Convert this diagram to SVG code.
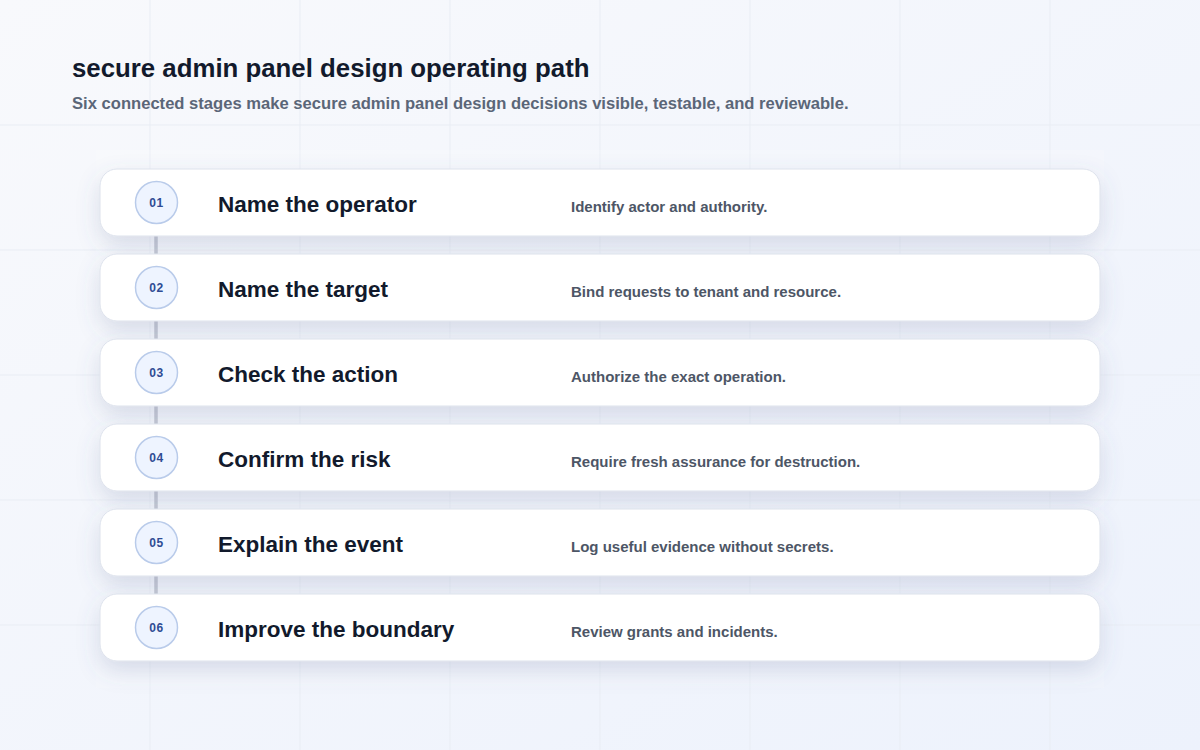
<svg xmlns="http://www.w3.org/2000/svg" width="1200" height="750" viewBox="0 0 1200 750">
<defs>
<linearGradient id="bg" x1="0" y1="0" x2="1" y2="1">
<stop offset="0" stop-color="#f8f9fc"/>
<stop offset="1" stop-color="#edf2fc"/>
</linearGradient>
<filter id="sh" x="-10%" y="-50%" width="120%" height="220%">
<feDropShadow dx="0" dy="9" stdDeviation="11" flood-color="#5a6a96" flood-opacity="0.2"/>
</filter>
<style>
.grid line{stroke:#e9edf4;stroke-width:1}
.card{fill:#ffffff;stroke:#dde2ec;stroke-width:1;filter:url(#sh)}
.badge{fill:#eef4ff;stroke:#b9cbea;stroke-width:1.5}
.num{font-family:"Liberation Sans",Arial,sans-serif;font-size:12px;font-weight:700;fill:#2f4c94;text-anchor:middle;letter-spacing:0.5px}
.ttl{font-family:"Liberation Sans",Arial,sans-serif;font-size:22.5px;font-weight:700;fill:#121a2c}
.desc{font-family:"Liberation Sans",Arial,sans-serif;font-size:15px;font-weight:700;fill:#4d5666}
.conn line{stroke:#c6cad4;stroke-width:3.5}
</style>
</defs>
<rect width="1200" height="750" fill="url(#bg)"/>
<g class="grid">
<line x1="150" y1="0" x2="150" y2="750"/>
<line x1="300" y1="0" x2="300" y2="750"/>
<line x1="450" y1="0" x2="450" y2="750"/>
<line x1="600" y1="0" x2="600" y2="750"/>
<line x1="750" y1="0" x2="750" y2="750"/>
<line x1="900" y1="0" x2="900" y2="750"/>
<line x1="1050" y1="0" x2="1050" y2="750"/>
<line x1="0" y1="125" x2="1200" y2="125"/>
<line x1="0" y1="250" x2="1200" y2="250"/>
<line x1="0" y1="375" x2="1200" y2="375"/>
<line x1="0" y1="500" x2="1200" y2="500"/>
<line x1="0" y1="625" x2="1200" y2="625"/>
</g>
<rect x="96" y="150" width="1008" height="538" fill="#ffffff" fill-opacity="0.15"/>
<text x="72" y="77" font-family="'Liberation Sans',Arial,sans-serif" font-size="25.8" font-weight="700" fill="#121a2c">secure admin panel design operating path</text>
<text x="72" y="109" font-family="'Liberation Sans',Arial,sans-serif" font-size="16.6" font-weight="700" fill="#5b6678">Six connected stages make secure admin panel design decisions visible, testable, and reviewable.</text>
<g class="conn" id="connectors">
<line x1="156" y1="236" x2="156" y2="254"/>
<line x1="156" y1="321" x2="156" y2="339"/>
<line x1="156" y1="406" x2="156" y2="424"/>
<line x1="156" y1="491" x2="156" y2="509"/>
<line x1="156" y1="576" x2="156" y2="594"/>
</g>
<g id="stage1">
<rect class="card" x="100" y="169" width="1000" height="67" rx="17"/>
<circle class="badge" cx="156.5" cy="202.5" r="21"/>
<text class="num" x="156.5" y="207">01</text>
<text class="ttl" x="218" y="212">Name the operator</text>
<text class="desc" x="571" y="212">Identify actor and authority.</text>
</g>
<g id="stage2">
<rect class="card" x="100" y="254" width="1000" height="67" rx="17"/>
<circle class="badge" cx="156.5" cy="287.5" r="21"/>
<text class="num" x="156.5" y="292">02</text>
<text class="ttl" x="218" y="297">Name the target</text>
<text class="desc" x="571" y="297">Bind requests to tenant and resource.</text>
</g>
<g id="stage3">
<rect class="card" x="100" y="339" width="1000" height="67" rx="17"/>
<circle class="badge" cx="156.5" cy="372.5" r="21"/>
<text class="num" x="156.5" y="377">03</text>
<text class="ttl" x="218" y="382">Check the action</text>
<text class="desc" x="571" y="382">Authorize the exact operation.</text>
</g>
<g id="stage4">
<rect class="card" x="100" y="424" width="1000" height="67" rx="17"/>
<circle class="badge" cx="156.5" cy="457.5" r="21"/>
<text class="num" x="156.5" y="462">04</text>
<text class="ttl" x="218" y="467">Confirm the risk</text>
<text class="desc" x="571" y="467">Require fresh assurance for destruction.</text>
</g>
<g id="stage5">
<rect class="card" x="100" y="509" width="1000" height="67" rx="17"/>
<circle class="badge" cx="156.5" cy="542.5" r="21"/>
<text class="num" x="156.5" y="547">05</text>
<text class="ttl" x="218" y="552">Explain the event</text>
<text class="desc" x="571" y="552">Log useful evidence without secrets.</text>
</g>
<g id="stage6">
<rect class="card" x="100" y="594" width="1000" height="67" rx="17"/>
<circle class="badge" cx="156.5" cy="627.5" r="21"/>
<text class="num" x="156.5" y="632">06</text>
<text class="ttl" x="218" y="637">Improve the boundary</text>
<text class="desc" x="571" y="637">Review grants and incidents.</text>
</g>
</svg>
